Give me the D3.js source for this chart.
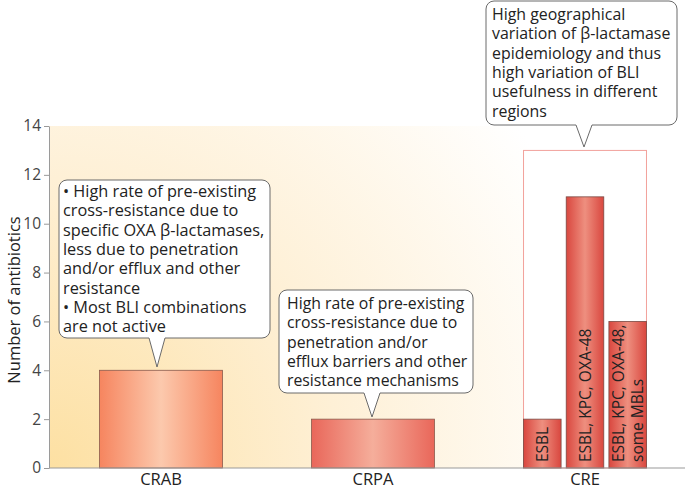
<!DOCTYPE html>
<html>
<head>
<meta charset="utf-8">
<script src="https://cdn.jsdelivr.net/npm/d3@7"></script>
<style>
  body { margin: 0; background: #fff; }
  text { font-family: "Open Sans", "Noto Sans", sans-serif; }
</style>
</head>
<body>
<div id="chart"></div>
<script>
// categories and values
const categories = ['CRAB', 'CRPA', 'CRE'];
const mainValues = [4, 2, null];
const creGroups = ['ESBL', 'ESBL, KPC, OXA-48', 'ESBL, KPC, OXA-48, some MBLs'];
const creValues = [2, 11.1, 6];
const creLabels = [['ESBL'], ['ESBL, KPC, OXA-48'], ['ESBL, KPC, OXA-48,', 'some MBLs']];
const creBoxValue = 13;
const yTicks = [0, 2, 4, 6, 8, 10, 12, 14];
const yTitle = 'Number of antibiotics';

const notes = [
  ['• High rate of pre-existing', 'cross-resistance due to', 'specific OXA β-lactamases,',
   'less due to penetration', 'and/or efflux and other', 'resistance',
   '• Most BLI combinations', 'are not active'],
  ['High rate of pre-existing', 'cross-resistance due to', 'penetration and/or',
   'efflux barriers and other', 'resistance mechanisms'],
  ['High geographical', 'variation of β-lactamase', 'epidemiology and thus',
   'high variation of BLI', 'usefulness in different', 'regions']
];

const width = 685, height = 489;
const x0 = 49, y0 = 468;

const svg = d3.select('#chart').append('svg')
  .attr('width', width)
  .attr('height', height);

const x = d3.scaleBand()
  .domain(categories)
  .range([55, 691])
  .paddingInner(0.42)
  .paddingOuter(0.21);

const y = d3.scaleLinear()
  .domain([0, 14])
  .range([y0, 126]);

const xs = d3.scaleBand()
  .domain(creGroups)
  .range([x('CRE'), x('CRE') + x.bandwidth()])
  .paddingInner(0.12);

// gradients
const defs = svg.append('defs');
const bg = defs.append('radialGradient')
  .attr('id', 'bg')
  .attr('gradientUnits', 'userSpaceOnUse')
  .attr('cx', x0).attr('cy', y0).attr('r', 580);
bg.append('stop').attr('offset', 0).attr('stop-color', '#fde0a2');
bg.append('stop').attr('offset', 0.5).attr('stop-color', '#fef0d6');
bg.append('stop').attr('offset', 1).attr('stop-color', '#ffffff');

function barGrad(id, edge, mid) {
  const g = defs.append('linearGradient').attr('id', id)
    .attr('x1', 0).attr('x2', 1).attr('y1', 0).attr('y2', 0);
  g.append('stop').attr('offset', 0).attr('stop-color', edge);
  g.append('stop').attr('offset', 0.5).attr('stop-color', mid);
  g.append('stop').attr('offset', 1).attr('stop-color', edge);
}
barGrad('g0', '#f6855f', '#fcc9ad');
barGrad('g1', '#e9675a', '#f5ae9b');
barGrad('g2', '#d9473f', '#ee8f7f');

// plot background
svg.append('rect')
  .attr('x', x0).attr('y', y(14))
  .attr('width', width - x0).attr('height', y0 - y(14))
  .attr('fill', 'url(#bg)');

// CRE outline box
svg.append('rect')
  .attr('x', x('CRE')).attr('y', y(creBoxValue))
  .attr('width', x.bandwidth()).attr('height', y(0) - y(creBoxValue))
  .attr('fill', '#fff')
  .attr('stroke', '#f2a29c')
  .attr('stroke-width', 1);

// main bars
const mainData = categories.map((c, i) => ({ name: c, value: mainValues[i], i }))
  .filter(d => d.value != null);
svg.append('g')
  .selectAll('rect')
  .data(mainData)
  .join('rect')
  .attr('x', d => x(d.name))
  .attr('y', d => y(d.value))
  .attr('width', x.bandwidth())
  .attr('height', d => y(0) - y(d.value))
  .attr('fill', d => `url(#g${d.i})`)
  .attr('stroke', '#8a5a4c')
  .attr('stroke-width', 0.8);

// CRE sub bars
const creData = creGroups.map((g, i) => ({ name: g, value: creValues[i], label: creLabels[i] }));
svg.append('g')
  .selectAll('rect')
  .data(creData)
  .join('rect')
  .attr('x', d => xs(d.name))
  .attr('y', d => y(d.value))
  .attr('width', xs.bandwidth())
  .attr('height', d => y(0) - y(d.value))
  .attr('fill', 'url(#g2)')
  .attr('stroke', '#7a4a44')
  .attr('stroke-width', 0.8);

// rotated labels in CRE bars
const lab = svg.append('g')
  .selectAll('text')
  .data(creData)
  .join('text')
  .attr('transform', d => {
    const n = d.label.length;
    const cx = xs(d.name) + xs.bandwidth() / 2 + 6 - (n - 1) * 9.5;
    return `translate(${cx},${y0 - 6}) rotate(-90)`;
  })
  .attr('font-size', 15.5)
  .attr('fill', '#222');
lab.selectAll('tspan')
  .data(d => d.label)
  .join('tspan')
  .attr('x', 0)
  .attr('dy', (d, i) => i === 0 ? 0 : 19)
  .text(d => d);

// x baseline
svg.append('line')
  .attr('x1', x0).attr('x2', width)
  .attr('y1', y0).attr('y2', y0)
  .attr('stroke', '#9a9a9a').attr('stroke-width', 1.2);

// y axis
const yAxis = svg.append('g')
  .attr('transform', `translate(${x0},0)`)
  .call(d3.axisLeft(y).tickValues(yTicks).tickSize(5).tickSizeOuter(0));
yAxis.select('.domain').attr('stroke', '#9a9a9a');
yAxis.selectAll('.tick line').attr('stroke', '#9a9a9a');
yAxis.selectAll('.tick text')
  .attr('font-size', 15.5)
  .attr('fill', '#444')
  .attr('font-family', '"Open Sans", sans-serif')
  .attr('x', -8);

svg.append('text')
  .attr('transform', `translate(19.5,300) rotate(-90)`)
  .attr('text-anchor', 'middle')
  .attr('font-size', 16.5)
  .attr('fill', '#222')
  .text(yTitle);

// x category labels
svg.append('g')
  .selectAll('text')
  .data(categories)
  .join('text')
  .attr('x', d => x(d) + x.bandwidth() / 2)
  .attr('y', 485)
  .attr('text-anchor', 'middle')
  .attr('font-size', 16.5)
  .attr('fill', '#222')
  .text(d => d);

// callouts
const boxes = [
  { x: 59, y: 180, w: 211, h: 158, tip: [157, 367], tx: 63, ty: 197, fs: 16.3 },
  { x: 279, y: 290, w: 194, h: 103, tip: [372, 417], tx: 287, ty: 309, fs: 15.8 },
  { x: 486, y: 1, w: 191, h: 124, tip: [584, 147], tx: 492, ty: 20, fs: 15.9 }
];
boxes.forEach((b, i) => {
  const r = 8, hw = 8;
  const tx = b.tip[0];
  const bot = b.y + b.h;
  const p = d3.path();
  p.moveTo(b.x + r, b.y);
  p.lineTo(b.x + b.w - r, b.y);
  p.arcTo(b.x + b.w, b.y, b.x + b.w, b.y + r, r);
  p.lineTo(b.x + b.w, bot - r);
  p.arcTo(b.x + b.w, bot, b.x + b.w - r, bot, r);
  p.lineTo(tx + hw, bot);
  p.lineTo(tx, b.tip[1]);
  p.lineTo(tx - hw, bot);
  p.lineTo(b.x + r, bot);
  p.arcTo(b.x, bot, b.x, bot - r, r);
  p.lineTo(b.x, b.y + r);
  p.arcTo(b.x, b.y, b.x + r, b.y, r);
  p.closePath();
  svg.append('path')
    .attr('d', p.toString())
    .attr('fill', '#fff')
    .attr('stroke', '#6a6a6a')
    .attr('stroke-width', 1);
  const t = svg.append('text')
    .attr('font-size', b.fs)
    .attr('fill', '#222');
  t.selectAll('tspan')
    .data(notes[i])
    .join('tspan')
    .attr('x', b.tx)
    .attr('y', (d, j) => b.ty + j * 19.3)
    .text(d => d);
});
</script>
</body>
</html>
